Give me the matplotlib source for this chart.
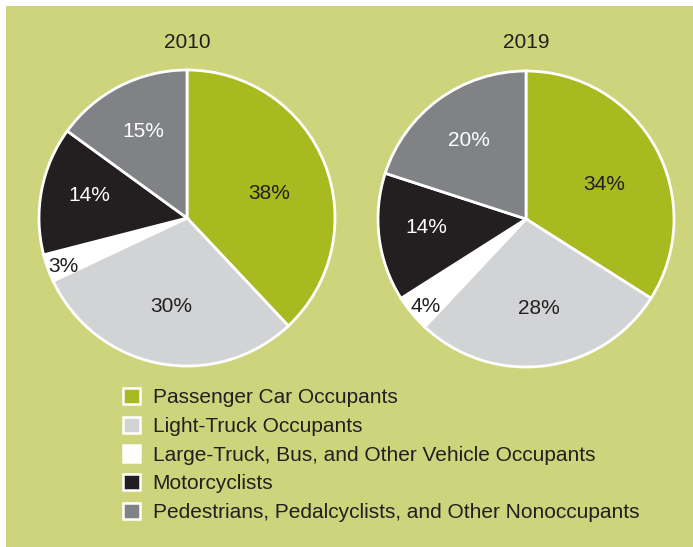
import matplotlib
matplotlib.use("Agg")
import matplotlib.pyplot as plt
from matplotlib.patches import Rectangle, Patch
import numpy as np

plt.rcParams['font.family'] = ['Liberation Sans', 'DejaVu Sans']

categories = ["Passenger Car Occupants", "Light-Truck Occupants",
              "Large-Truck, Bus, and Other Vehicle Occupants",
              "Motorcyclists", "Pedestrians, Pedalcyclists, and Other Nonoccupants"]
values_2010 = [38, 30, 3, 14, 15]
values_2019 = [34, 28, 4, 14, 20]
years = ["2010", "2019"]
colors = ["#a9b920", "#d1d3d4", "#ffffff", "#231f20", "#808285"]
label_colors = ["#231f20", "#231f20", "#231f20", "#ffffff", "#ffffff"]
bg = "#cdd47c"

W, H = 693, 547
fig = plt.figure(figsize=(W/100, H/100), dpi=100, facecolor="white")
ax = fig.add_axes([0, 0, 1, 1])
ax.add_patch(Rectangle((6, 0), W-6, H-6, facecolor=bg, edgecolor="none", zorder=0))

pies = [(values_2010, (187, H-218), 148), (values_2019, (526, H-219), 148)]
label_dist = [0.58, 0.61, 0.9, 0.675, 0.655]
label_ang_off = [-5, 1, 1.5, -2.5, 0]

for (vals, center, r), yr in zip(pies, years):
    wedges, _ = ax.pie(vals, colors=colors, startangle=90, counterclock=False,
                       center=center, radius=r, frame=True,
                       wedgeprops=dict(edgecolor="white", linewidth=2))
    for w, v, d, off, lc in zip(wedges, vals, label_dist, label_ang_off, label_colors):
        ang = np.deg2rad((w.theta1 + w.theta2) / 2 + off)
        x = center[0] + d * r * np.cos(ang)
        y = center[1] + d * r * np.sin(ang)
        ax.text(x, y, f"{v}%", ha="center", va="center", fontsize=15,
                color=lc, zorder=5)
    ax.text(center[0], H - 42, yr, ha="center", va="center", fontsize=15, color="#231f20")

ax.set_xlim(0, W)
ax.set_ylim(0, H)
ax.set_aspect("equal")
ax.axis("off")

handles = [Patch(facecolor=c, edgecolor="white", linewidth=1.8) for c in colors]
leg = fig.legend(handles, categories, loc="upper left",
                 bbox_to_anchor=(123/W, 1 - 388/H), frameon=False,
                 fontsize=15, handlelength=0.82, handleheight=0.82,
                 handletextpad=0.6, labelspacing=0.45, borderpad=0, borderaxespad=0)
for t in leg.get_texts():
    t.set_color("#231f20")

fig.savefig("out.png", dpi=100, facecolor="white")
